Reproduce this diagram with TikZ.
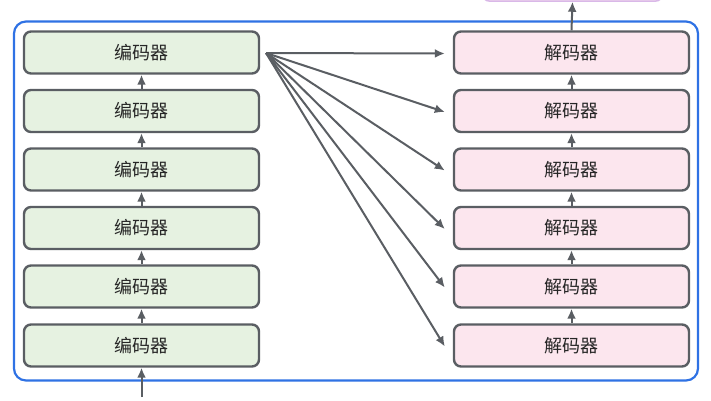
\documentclass[tikz,border=0pt]{standalone}
\usepackage{fontspec}
\newfontfamily\cjk{Noto Sans CJK SC}
\usetikzlibrary{arrows.meta}
\definecolor{encfill}{HTML}{E6F2E1}
\definecolor{decfill}{HTML}{FCE6EE}
\definecolor{edge}{HTML}{5A5E63}
\definecolor{outer}{HTML}{2F72E4}
\definecolor{topbd}{HTML}{D9B8E8}
\begin{document}
\begin{tikzpicture}[x=1pt,y=-1pt,
  enc/.style={draw=edge,fill=encfill,line width=2.4pt,rounded corners=7pt,minimum width=235pt,minimum height=42pt,inner sep=0pt,font=\cjk\fontsize{18}{21}\selectfont,text=black!85},
  dec/.style={enc,fill=decfill},
  arr/.style={draw=edge,line width=2pt,-{Latex[length=10pt,width=9pt]}}]
\useasboundingbox (0,0) rectangle (711,400);
\node[draw=outer,line width=2.2pt,rounded corners=12pt,minimum width=684pt,minimum height=359pt,inner sep=0pt] (frame) at (356,201) {};
\node[draw=topbd,fill=decfill,line width=1.5pt,rounded corners=6pt,minimum width=179pt,minimum height=20pt,inner sep=0pt] (out) at (572.5,-9) {};
\foreach \i/\y in {1/52.5,2/111,3/169.5,4/228,5/286.5,6/345.5}{
  \node[enc] (e\i) at (141.5,\y) {编码器};
  \node[dec] (d\i) at (571.5,\y) {解码器};
}
\coordinate (in) at (141.5,397);
\draw[arr] (in) -- (e6.south);
\foreach \a/\b in {6/5,5/4,4/3,3/2,2/1}{
  \draw[arr] (e\a.north) -- (e\b.south);
  \draw[arr] (d\a.north) -- (d\b.south);
}
\draw[arr] (d1.north) -- (out.south);
\coordinate (src) at (266,53);
\foreach \i in {1,...,6}{
  \draw[arr] (src) -- ([xshift=-8pt,yshift=-1pt]d\i.west);
}
\end{tikzpicture}
\end{document}
